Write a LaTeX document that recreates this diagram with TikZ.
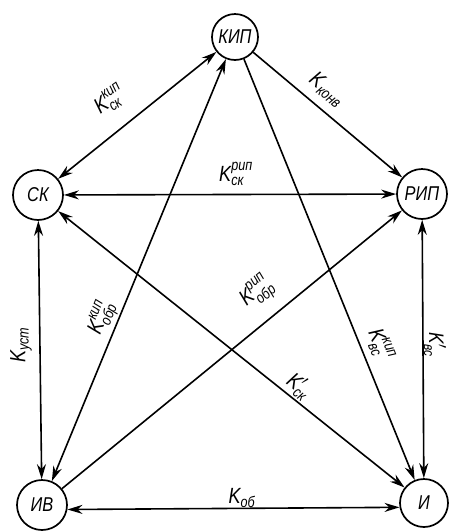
\documentclass[tikz,border=0pt]{standalone}
\usepackage{amsmath}
\usepackage{fontspec}
\setmainfont{Liberation Sans}[FakeStretch=0.82]
\usetikzlibrary{arrows.meta}
\begin{document}
\begin{tikzpicture}[x=1pt,y=-1pt,
  st/.style={circle,draw,line width=1.7pt,inner sep=0pt,font=\fontsize{20}{20}\selectfont\itshape},
  con/.style={line width=1.6pt},
  dbl/.style={con,{Stealth[length=15pt,width=9pt]}-{Stealth[length=15pt,width=9pt]}},
  one/.style={con,-{Stealth[length=15pt,width=9pt]}},
  lbl/.style={inner sep=0pt,font=\fontsize{22}{22}\selectfont}]
\useasboundingbox (0,0) rectangle (453,531);
\node[st,minimum size=46pt] (kip) at (235,37) {КИП};
\node[st,minimum size=50pt] (sk) at (38,195) {СК};
\node[st,minimum size=50pt] (rip) at (422,194) {РИП};
\node[st,minimum size=50pt] (iv) at (42,505) {ИВ};
\node[st,minimum size=48pt] (i) at (424,503) {И};
\draw[dbl] (sk) -- (kip);
\draw[one] (kip) -- (rip);
\draw[dbl] (sk) -- (rip);
\draw[dbl] (sk) -- (iv);
\draw[dbl] (iv) -- (kip);
\draw[one] (kip) -- (i);
\draw[one] (iv) -- (rip);
\draw[dbl] (sk) -- (i);
\draw[dbl] (rip) -- (i);
\draw[dbl] (iv.-10) -- (i.190);
\node[lbl,rotate=35] (l1) at (110,100) {$\textit{K}^{\textit{кип}}_{\textit{ск}}$};
\node[lbl,rotate=-40] (l2) at (327,90) {$\textit{K}_{\textit{конв}}$};
\node[lbl] (l3) at (236,174) {$\textit{K}^{\textit{рип}}_{\textit{ск}}$};
\node[lbl,rotate=40] (l4) at (257,293) {$\textit{K}^{\textit{рип}}_{\textit{обр}}$};
\node[lbl,rotate=68] (l5) at (102,318) {$\textit{K}^{\textit{кип}}_{\textit{обр}}$};
\node[lbl,rotate=90] (l6) at (21,345) {$\textit{K}_{\textit{уст}}$};
\node[lbl,rotate=-68] (l7) at (380,345) {$\textit{K}^{\textit{кип}}_{\textit{вс}}$};
\node[lbl,rotate=-90,font=\fontsize{21}{21}\selectfont] (l8) at (435,345) {$\textit{K}'_{\textit{вс}}$};
\node[lbl,rotate=-38] (l9) at (299,386) {$\textit{K}'_{\textit{ск}}$};
\node[lbl] (l10) at (242,498) {$\textit{K}_{\textit{об}}$};
\end{tikzpicture}
\end{document}
